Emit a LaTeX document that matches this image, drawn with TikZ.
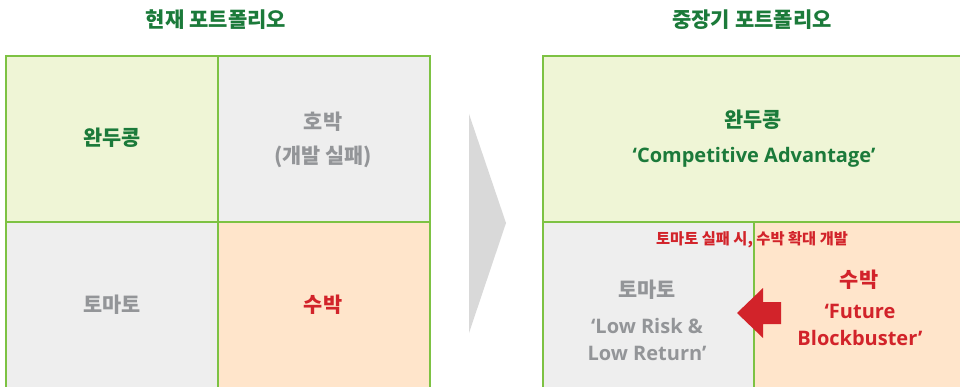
\documentclass[tikz,border=0pt]{standalone}
\usepackage{fontspec}
\setmainfont{Open Sans}
\newfontfamily\kr{Noto Sans CJK KR}
\definecolor{bordergreen}{HTML}{7DC243}
\definecolor{titlegreen}{HTML}{1B7A3A}
\definecolor{fillgreen}{HTML}{EFF5D6}
\definecolor{fillgray}{HTML}{EEEEEE}
\definecolor{fillpeach}{HTML}{FFE5CB}
\definecolor{txtgray}{HTML}{939598}
\definecolor{txtred}{HTML}{D2232A}
\definecolor{chev}{HTML}{D9D9D9}
\tikzset{
  cell/.style={draw=bordergreen, line width=2.2pt},
  title/.style={font=\kr\bfseries\fontsize{21}{24}\selectfont, text=titlegreen},
  krlbl/.style={font=\kr\bfseries\fontsize{20.8}{24}\selectfont},
  enlbl/.style={font=\bfseries\fontsize{20}{27}\selectfont},
  smalllbl/.style={font=\kr\bfseries\fontsize{15.3}{18}\selectfont, text=txtred},
}
\begin{document}
\begin{tikzpicture}[x=1pt,y=-1pt]
\useasboundingbox (0,0) rectangle (960,387);
\begin{scope}
\clip (0,0) rectangle (960,387);
% left grid
\filldraw[cell, fill=fillgreen] (6,56) rectangle (218,222);
\filldraw[cell, fill=fillgray] (218,56) rectangle (430,222);
\filldraw[cell, fill=fillgray] (6,222) rectangle (218,400);
\filldraw[cell, fill=fillpeach] (218,222) rectangle (430,400);
% right grid
\filldraw[cell, fill=fillgreen] (543,56) rectangle (980,222);
\filldraw[cell, fill=fillgray] (543,222) rectangle (754,400);
\filldraw[cell, fill=fillpeach] (754,222) rectangle (980,400);
\end{scope}
% chevron
\fill[chev] (469,114) -- (506,223) -- (469,333) -- cycle;
% titles
\node[title] (t1) at (216,20) {현재 포트폴리오};
\node[title] (t2) at (752,20) {중장기 포트폴리오};
% left labels
\node[krlbl, text=titlegreen] (l1) at (112,138) {완두콩};
\node[krlbl, text=txtgray] (l2) at (323,122) {호박};
\node[krlbl, text=txtgray] (l2b) at (323,157) {(개발 실패)};
\node[krlbl, text=txtgray] (l3) at (112,305) {토마토};
\node[krlbl, text=txtred] (l4) at (323,305) {수박};
% right labels
\node[krlbl, text=titlegreen] (r1) at (753,120) {완두콩};
\node[enlbl, text=titlegreen] (r1b) at (754,157) {‘Competitive Advantage’};
\node[smalllbl] (note) at (752,240) {토마토 실패 시, 수박 확대 개발};
\node[krlbl, text=txtgray] (r2) at (647,290) {토마토};
\node[enlbl, text=txtgray, align=center] (r2b) at (647,339) {‘Low Risk \&\\Low Return’};
\node[krlbl, text=txtred] (r3) at (859,280) {수박};
\node[enlbl, text=txtred, align=center] (r3b) at (860,325) {‘Future\\Blockbuster’};
% arrow
\fill[txtred] (737,313) -- (763,288) -- (763,302) -- (781,302) -- (781,324) -- (763,324) -- (763,338) -- cycle;
\end{tikzpicture}
\end{document}
